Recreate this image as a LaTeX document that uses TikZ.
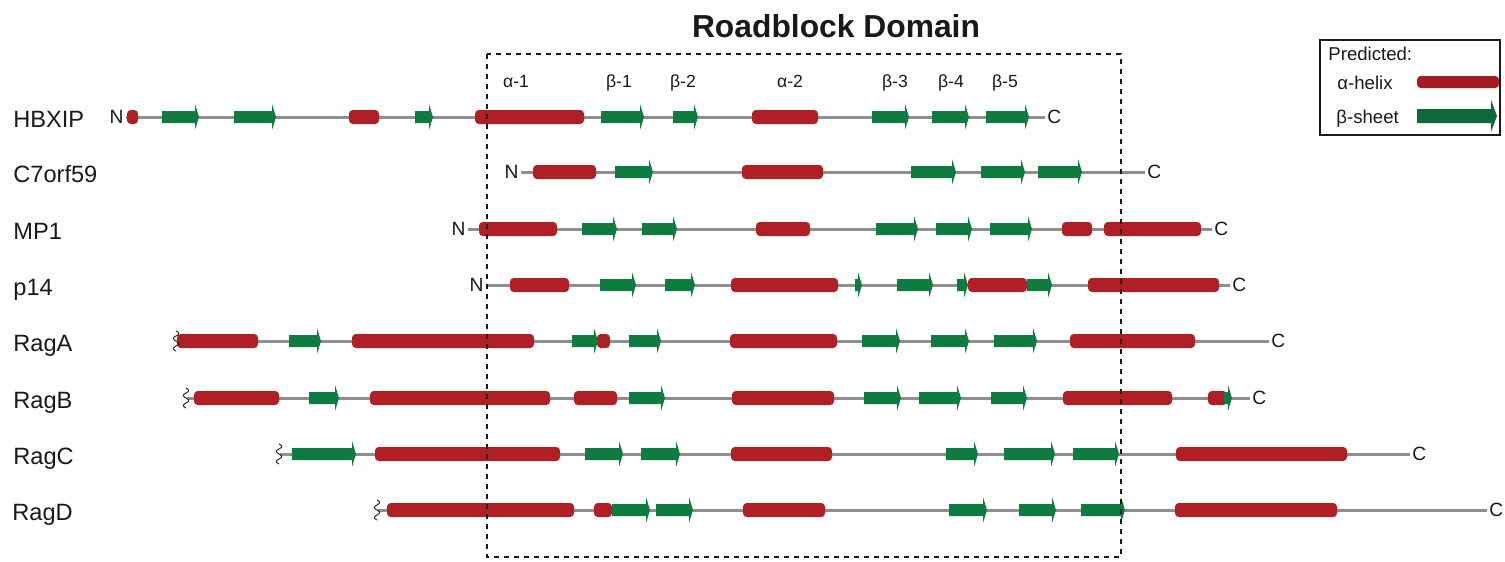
\documentclass[tikz,border=0pt]{standalone}
\usepackage{fontspec}
\setmainfont{Liberation Sans}

\definecolor{helixred}{HTML}{B01F24}
\definecolor{strandgreen}{HTML}{0E7B3F}
\definecolor{lghelixred}{HTML}{A21C22}
\definecolor{lgstrandgreen}{HTML}{0B6A37}
\definecolor{backbonegray}{HTML}{8E8E8E}

% helices and strands of one row: #1 = row y, #2 = list of from/to
\newcommand{\drawhelices}[2]{%
  \foreach \a/\b in {#2}
    \fill[helix] (\a,#1-7) rectangle (\b,#1+7);}
\newcommand{\drawstrands}[2]{%
  \foreach \a/\b in {#2}
    \fill[strand] (\a,#1-6) -- (\b-4,#1-6) -- (\b-4,#1-13) -- (\b,#1)
      -- (\b-4,#1+13) -- (\b-4,#1+6) -- (\a,#1+6) -- cycle;}
% wavy mark for a truncated N-terminus at (#1,#2)
\newcommand{\drawtrunc}[2]{%
  \draw[wavy] plot[domain=-10:10, samples=41] ({#1+2.6*sin(\x*36)}, {#2+\x});}

\begin{document}
\begin{tikzpicture}[
    x=0.5pt, y=-0.5pt,
    protname/.style={anchor=base west, inner sep=0pt, text=black!90,
                     font=\fontsize{11.8}{14}\selectfont},
    endlbl/.style={inner sep=1pt, text=black!90, font=\fontsize{9.6}{11}\selectfont},
    sslbl/.style={anchor=base, inner sep=0pt, text=black!90,
                  font=\fontsize{8.8}{10}\selectfont},
    leglbl/.style={anchor=base west, inner sep=0pt, text=black!90,
                   font=\fontsize{9.3}{11}\selectfont},
    backbone/.style={draw=backbonegray, line width=1.5pt},
    helix/.style={fill=helixred, rounded corners=1.9pt},
    strand/.style={fill=strandgreen},
    wavy/.style={draw=black!85, line width=0.5pt},
    domainbox/.style={draw=black!90, line width=1.4pt, dash pattern=on 2.6pt off 2.4pt},
    legbox/.style={draw=black!90, line width=0.75pt},
  ]
  \useasboundingbox (0,0) rectangle (1505,562);

  % --- title and domain labels ---
  \node[anchor=base, inner sep=0pt, text=black!90,
        font=\fontsize{15.9}{18}\selectfont\bfseries] (title) at (836,38) {Roadblock Domain};
  \node[sslbl] (sa1) at (516,87)  {α-1};
  \node[sslbl] (sb1) at (619,87)  {β-1};
  \node[sslbl] (sb2) at (683,87)  {β-2};
  \node[sslbl] (sa2) at (790,87)  {α-2};
  \node[sslbl] (sb3) at (895,87)  {β-3};
  \node[sslbl] (sb4) at (951,87)  {β-4};
  \node[sslbl] (sb5) at (1005,87) {β-5};

  % --- HBXIP ---
  \node[protname] (lblHBXIP) at (13,127) {HBXIP};
  \node[endlbl, anchor=east] (nHBXIP) at (126,117) {N};
  \node[endlbl, anchor=west] (cHBXIP) at (1045,117) {C};
  \draw[backbone] (nHBXIP.east) -- (cHBXIP.west);
  \drawhelices{117}{127/138, 349/379, 475/584, 752/818}
  \drawstrands{117}{162/199, 234/276, 415/433, 601/644, 673/698, 872/909, 932/969, 986/1029}

  % --- C7orf59 ---
  \node[protname] (lblC7orf59) at (13,182) {C7orf59};
  \node[endlbl, anchor=east] (nC7orf59) at (521,172) {N};
  \node[endlbl, anchor=west] (cC7orf59) at (1145,172) {C};
  \draw[backbone] (nC7orf59.east) -- (cC7orf59.west);
  \drawhelices{172}{533/596, 742/823}
  \drawstrands{172}{615/653, 911/956, 981/1025, 1038/1082}

  % --- MP1 ---
  \node[protname] (lblMP1) at (13,239) {MP1};
  \node[endlbl, anchor=east] (nMP1) at (468,229) {N};
  \node[endlbl, anchor=west] (cMP1) at (1212,229) {C};
  \draw[backbone] (nMP1.east) -- (cMP1.west);
  \drawhelices{229}{479/557, 756/810, 1062/1092, 1104/1201}
  \drawstrands{229}{582/617, 642/677, 876/918, 936/972, 990/1032}

  % --- p14 ---
  \node[protname] (lblp14) at (13,295) {p14};
  \node[endlbl, anchor=east] (np14) at (486,285) {N};
  \node[endlbl, anchor=west] (cp14) at (1230,285) {C};
  \draw[backbone] (np14.east) -- (cp14.west);
  \drawhelices{285}{510/569, 731/838, 968/1027, 1088/1219}
  \drawstrands{285}{600/636, 665/695, 855/862, 897/933, 957/968, 1027/1052}

  % --- RagA ---
  \node[protname] (lblRagA) at (13,351) {RagA};
  \coordinate (wRagA) at (177,341);
  \node[endlbl, anchor=west] (cRagA) at (1269,341) {C};
  \draw[backbone] (wRagA) -- (cRagA.west);
  \drawhelices{341}{177/258, 352/534, 597/610, 730/837, 1070/1195}
  \drawstrands{341}{289/321, 572/598, 629/661, 862/900, 931/969, 994/1037}

  % --- RagB ---
  \node[protname] (lblRagB) at (13,408) {RagB};
  \coordinate (wRagB) at (187,398);
  \node[endlbl, anchor=west] (cRagB) at (1250,398) {C};
  \draw[backbone] (wRagB) -- (cRagB.west);
  \drawhelices{398}{194/279, 370/550, 574/617, 732/834, 1063/1172, 1208/1227}
  \drawstrands{398}{309/339, 629/665, 864/901, 919/961, 991/1027, 1224/1232}

  % --- RagC ---
  \node[protname] (lblRagC) at (13,464) {RagC};
  \coordinate (wRagC) at (280,454);
  \node[endlbl, anchor=west] (cRagC) at (1410,454) {C};
  \draw[backbone] (wRagC) -- (cRagC.west);
  \drawhelices{454}{375/560, 731/832, 1176/1347}
  \drawstrands{454}{292/356, 585/623, 641/680, 946/978, 1004/1055, 1073/1119}

  % --- RagD ---
  \node[protname] (lblRagD) at (12,520) {RagD};
  \coordinate (wRagD) at (378,510);
  \node[endlbl, anchor=west] (cRagD) at (1487,510) {C};
  \draw[backbone] (wRagD) -- (cRagD.west);
  \drawhelices{510}{387/574, 594/612, 743/825, 1175/1337}
  \drawstrands{510}{612/650, 656/693, 949/987, 1019/1056, 1081/1125}

  % truncated N-termini
  \drawtrunc{176}{341}
  \drawtrunc{186}{398}
  \drawtrunc{279}{454}
  \drawtrunc{377}{510}

  % --- roadblock domain ---
  \draw[domainbox] (487,54) rectangle (1121,557);

  % --- legend ---
  \draw[legbox] (1320,40) rectangle (1500,135);
  \node[leglbl] (lgtitle) at (1328,61) {Predicted:};
  \node[leglbl] (lghelix) at (1337,89) {α-helix};
  \node[leglbl] (lgstrand) at (1336,123) {β-sheet};
  \fill[lghelixred, rounded corners=1.9pt] (1417,76) rectangle (1499,88);
  \fill[lgstrandgreen] (1417,109) -- (1491,109) -- (1491,100) -- (1497,116)
    -- (1491,132) -- (1491,123) -- (1417,123) -- cycle;
\end{tikzpicture}
\end{document}
